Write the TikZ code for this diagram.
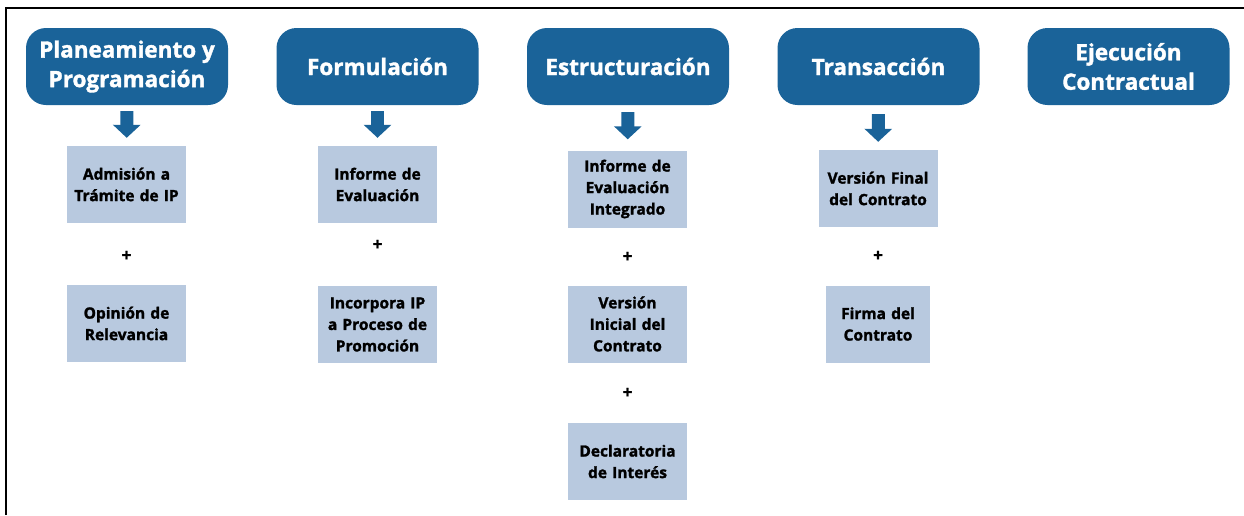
\documentclass[tikz,border=0pt]{standalone}
\usepackage{fontspec}
\setmainfont{Open Sans}[BoldFeatures={FakeBold=1.6}]
\usetikzlibrary{arrows.meta}

\definecolor{azul}{RGB}{26,99,153}
\definecolor{celeste}{RGB}{184,201,223}

\tikzset{
    etapa/.style={fill=azul,rounded corners=20pt,minimum width=202pt,minimum height=77pt,
        inner sep=0pt,align=center,text=white,font=\fontsize{22.5}{29.5}\selectfont\bfseries},
    caja/.style={fill=celeste,text width=119pt,minimum height=77pt,inner sep=0pt,
        align=center,font=\fontsize{15.5}{21.5}\selectfont\bfseries},
    mas/.style={inner sep=0pt,font=\fontsize{17}{17}\selectfont\bfseries},
    flecha/.style={draw=azul,line width=13pt,-{Triangle[width=27pt,length=13pt]},
        shorten <=6pt,shorten >=8pt}
}

\begin{document}
\begin{tikzpicture}[x=1pt,y=-1pt]
        \useasboundingbox(0,0)rectangle(1244,515);
        \draw[line width=2pt](5.5,515)--(5.5,8)--(1244,8);

        \node[etapa](plan)at(127,66.5){Planeamiento y\\Programación};
        \node[etapa](form)at(377.5,66.5){Formulación};
        \node[etapa](estr)at(628,66.5){Estructuración};
        \node[etapa](tran)at(878.5,66.5){Transacción};
        \node[etapa](ejec)at(1128.5,66.5){Ejecución\\Contractual};

        \node[caja](admision)at(126.5,184.5){Admisión a\\Trámite de IP};
        \node[mas](mas1)at(126.5,256){+};
        \node[caja](opinion)at(126.5,323.5){Opinión de\\Relevancia};

        \node[caja](informe)at(377.5,184.5){Informe de\\Evaluación};
        \node[mas](mas2)at(377.5,245){+};
        \node[caja](incorpora)at(377.5,324.5){Incorpora IP\\a Proceso de\\Promoción};

        \node[caja](integrado)at(627.5,189){Informe de\\Evaluación\\Integrado};
        \node[mas](mas3)at(627.5,257){+};
        \node[caja](inicial)at(627.5,324){Versión\\Inicial del\\Contrato};
        \node[mas](mas4)at(627.5,393){+};
        \node[caja](declaratoria)at(627.5,461.5){Declaratoria\\de Interés};

        \node[caja](final)at(878,188.5){Versión Final\\del Contrato};
        \node[mas](mas5)at(878,256){+};
        \node[caja,text width=104pt](firma)at(878,324){Firma del\\Contrato};

        \draw[flecha](plan)--(admision);
        \draw[flecha](form)--(informe);
        \draw[flecha,shorten <=7pt,shorten >=11pt](estr)--(integrado);
        \draw[flecha,shorten <=9pt](tran)--(final);
    \end{tikzpicture}
\end{document}
